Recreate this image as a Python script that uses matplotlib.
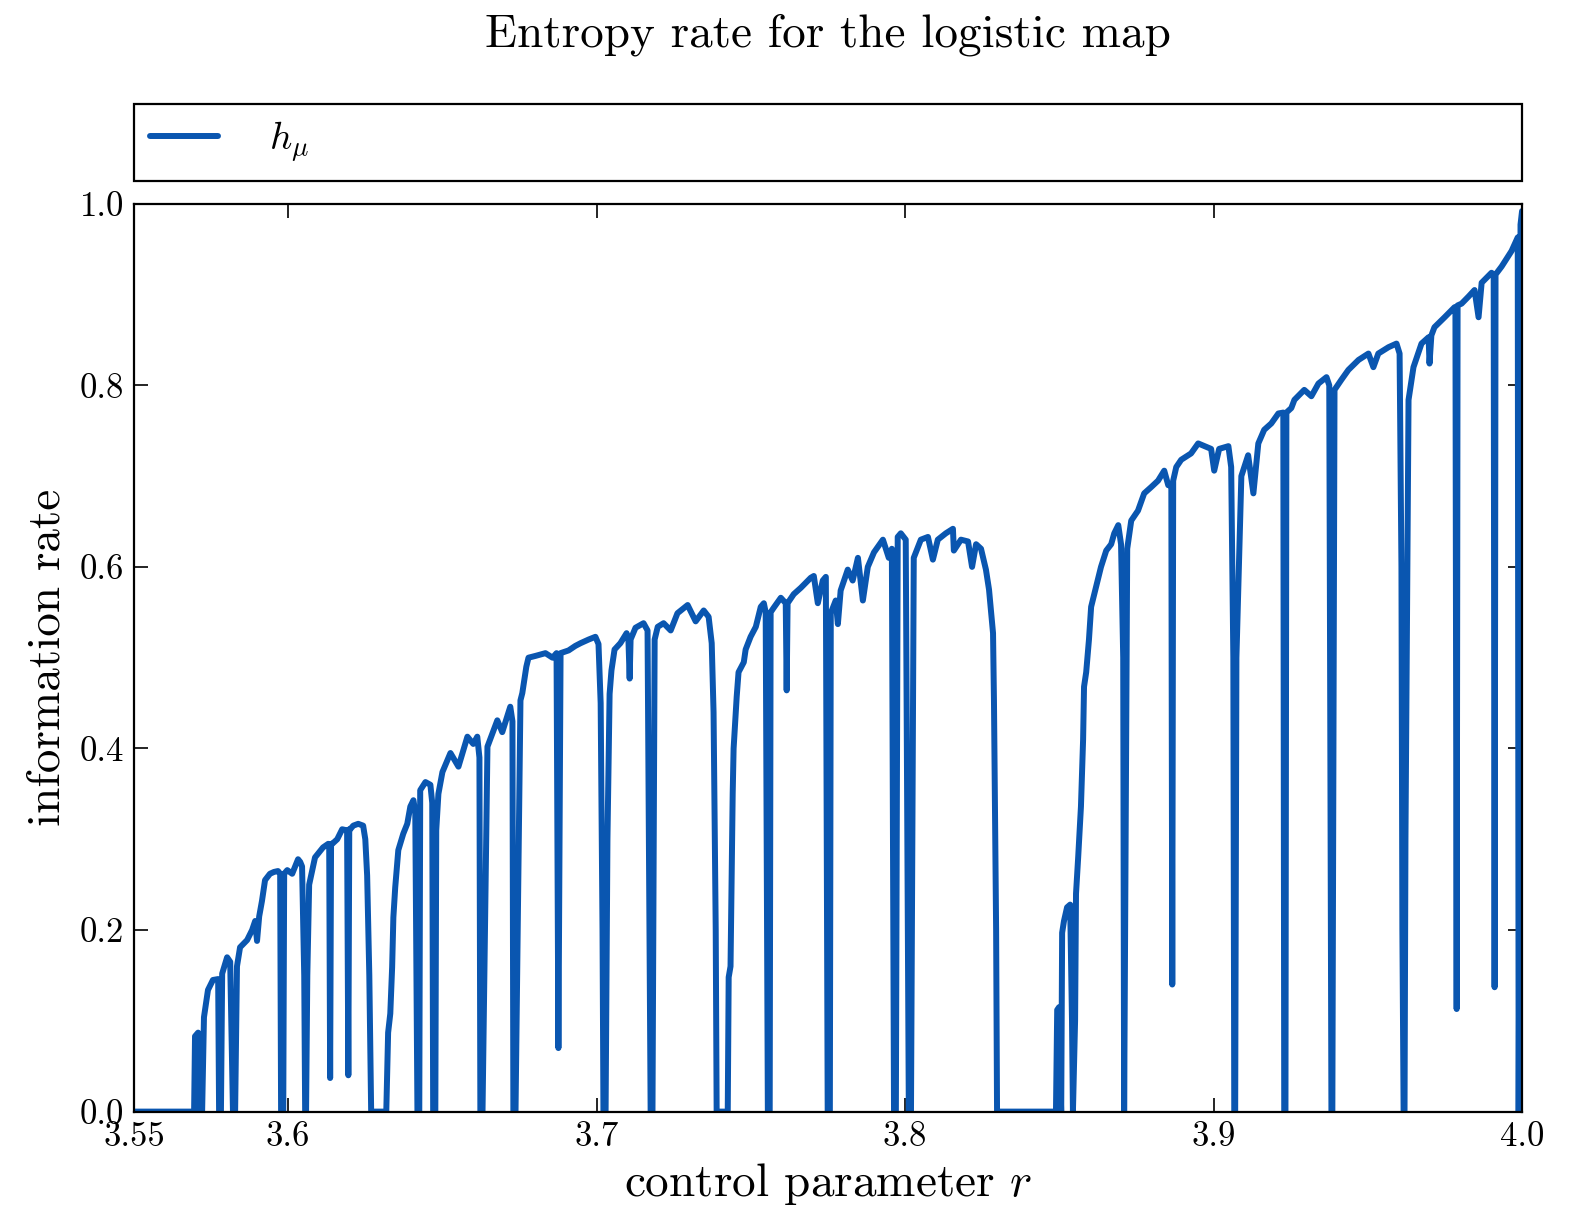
import matplotlib
matplotlib.use("Agg")
import matplotlib.pyplot as plt

plt.rcParams['font.family'] = ['cmr10', 'DejaVu Serif']
plt.rcParams['mathtext.fontset'] = 'cm'
plt.rcParams['axes.formatter.use_mathtext'] = True

# ---------------- data ----------------
# chaotic band before the period-6 window
r_a = [3.5500, 3.5688, 3.5695, 3.5698, 3.5708, 3.5711, 3.5714, 3.5721, 3.5727, 3.5740,
       3.5756, 3.5773, 3.5776, 3.5782, 3.5786, 3.5802, 3.5812, 3.5821, 3.5828, 3.5834,
       3.5844, 3.5867, 3.5883, 3.5893, 3.5899, 3.5906, 3.5915, 3.5925, 3.5941, 3.5954,
       3.5967, 3.5974, 3.5977, 3.5984, 3.5987, 3.5997, 3.6013, 3.6032, 3.6039, 3.6045,
       3.6052, 3.6055, 3.6058, 3.6062, 3.6068, 3.6087, 3.6113, 3.6130, 3.6133, 3.6136,
       3.6139, 3.6143, 3.6159, 3.6175, 3.6188, 3.6191, 3.6195, 3.6198, 3.6201, 3.6211,
       3.6227, 3.6243, 3.6250, 3.6256, 3.6263, 3.6269]
h_a = [0.000, 0.000, 0.000, 0.083, 0.087, 0.085, 0.000, 0.000, 0.104, 0.134,
       0.145, 0.146, 0.000, 0.000, 0.152, 0.170, 0.165, 0.000, 0.000, 0.160,
       0.181, 0.189, 0.200, 0.210, 0.188, 0.215, 0.232, 0.255, 0.262, 0.264,
       0.265, 0.262, 0.000, 0.000, 0.262, 0.266, 0.262, 0.278, 0.275, 0.270,
       0.150, 0.000, 0.000, 0.150, 0.250, 0.280, 0.291, 0.295, 0.292, 0.037,
       0.295, 0.295, 0.300, 0.311, 0.310, 0.310, 0.040, 0.311, 0.311, 0.315,
       0.317, 0.315, 0.300, 0.260, 0.150, 0.000]

# band between the period-6 and period-5 windows
r_b = [3.6318, 3.6324, 3.6331, 3.6337, 3.6341, 3.6347, 3.6357, 3.6373, 3.6386, 3.6396,
       3.6406, 3.6412, 3.6419, 3.6425, 3.6428, 3.6445, 3.6461, 3.6467, 3.6470, 3.6477,
       3.6480, 3.6487, 3.6500, 3.6526, 3.6552, 3.6581, 3.6600, 3.6613, 3.6620, 3.6623,
       3.6630, 3.6646, 3.6678, 3.6694, 3.6720, 3.6727, 3.6730, 3.6737, 3.6753, 3.6759,
       3.6772, 3.6779, 3.6802, 3.6834, 3.6857, 3.6870, 3.6876, 3.6883, 3.6909, 3.6931,
       3.6948, 3.6974, 3.6996, 3.7006, 3.7013, 3.7019, 3.7022, 3.7029, 3.7035, 3.7042,
       3.7048, 3.7058, 3.7077, 3.7097, 3.7103, 3.7107, 3.7110, 3.7126, 3.7152, 3.7165,
       3.7175, 3.7181, 3.7188, 3.7198, 3.7217, 3.7240, 3.7262, 3.7295, 3.7321, 3.7347,
       3.7363, 3.7373, 3.7379, 3.7386, 3.7389]
h_b = [0.000, 0.087, 0.108, 0.159, 0.214, 0.247, 0.288, 0.306, 0.317, 0.336,
       0.343, 0.330, 0.000, 0.000, 0.354, 0.363, 0.360, 0.340, 0.000, 0.000,
       0.310, 0.350, 0.374, 0.395, 0.380, 0.413, 0.405, 0.413, 0.390, 0.000,
       0.000, 0.402, 0.431, 0.418, 0.446, 0.430, 0.000, 0.000, 0.453, 0.461,
       0.490, 0.500, 0.502, 0.505, 0.500, 0.505, 0.070, 0.505, 0.508, 0.513,
       0.516, 0.520, 0.523, 0.515, 0.450, 0.200, 0.000, 0.000, 0.300, 0.460,
       0.486, 0.509, 0.516, 0.527, 0.520, 0.477, 0.520, 0.533, 0.538, 0.530,
       0.000, 0.000, 0.520, 0.534, 0.538, 0.530, 0.549, 0.558, 0.540, 0.552,
       0.545, 0.516, 0.440, 0.200, 0.000]

# band between the period-5 and period-3 windows
r_c = [3.7421, 3.7425, 3.7428, 3.7434, 3.7441, 3.7444, 3.7454, 3.7460, 3.7477, 3.7483,
       3.7499, 3.7516, 3.7532, 3.7542, 3.7548, 3.7555, 3.7561, 3.7564, 3.7574, 3.7597,
       3.7613, 3.7616, 3.7619, 3.7639, 3.7662, 3.7694, 3.7704, 3.7717, 3.7733, 3.7743,
       3.7746, 3.7749, 3.7756, 3.7759, 3.7775, 3.7782, 3.7791, 3.7814, 3.7830, 3.7847,
       3.7863, 3.7879, 3.7899, 3.7928, 3.7947, 3.7957, 3.7964, 3.7970, 3.7976, 3.7986,
       3.8002, 3.8012, 3.8019, 3.8028, 3.8051, 3.8074, 3.8090, 3.8106, 3.8132, 3.8155,
       3.8158, 3.8181, 3.8204, 3.8217, 3.8230, 3.8246, 3.8262, 3.8272, 3.8285, 3.8288,
       3.8295, 3.8298]
h_c = [0.000, 0.000, 0.148, 0.160, 0.350, 0.400, 0.457, 0.484, 0.495, 0.509,
       0.523, 0.534, 0.556, 0.560, 0.550, 0.000, 0.000, 0.550, 0.555, 0.566,
       0.560, 0.464, 0.560, 0.570, 0.577, 0.588, 0.590, 0.560, 0.585, 0.589,
       0.300, 0.000, 0.000, 0.549, 0.563, 0.537, 0.574, 0.597, 0.585, 0.610,
       0.563, 0.600, 0.616, 0.630, 0.610, 0.620, 0.000, 0.000, 0.633, 0.637,
       0.630, 0.000, 0.000, 0.610, 0.630, 0.633, 0.608, 0.630, 0.637, 0.642,
       0.618, 0.630, 0.628, 0.600, 0.625, 0.620, 0.597, 0.575, 0.527, 0.453,
       0.200, 0.000]

# band after the period-3 window up to r = 4
r_d = [3.8486, 3.8489, 3.8493, 3.8499, 3.8502, 3.8506, 3.8509, 3.8515, 3.8525, 3.8535,
       3.8541, 3.8544, 3.8551, 3.8554, 3.8561, 3.8570, 3.8577, 3.8580, 3.8587, 3.8596,
       3.8603, 3.8619, 3.8635, 3.8652, 3.8668, 3.8678, 3.8691, 3.8700, 3.8707, 3.8710,
       3.8720, 3.8733, 3.8755, 3.8775, 3.8798, 3.8820, 3.8840, 3.8853, 3.8863, 3.8866,
       3.8869, 3.8879, 3.8895, 3.8927, 3.8950, 3.8992, 3.9002, 3.9018, 3.9048, 3.9057,
       3.9064, 3.9067, 3.9070, 3.9074, 3.9090, 3.9112, 3.9129, 3.9145, 3.9164, 3.9187,
       3.9210, 3.9226, 3.9229, 3.9233, 3.9236, 3.9252, 3.9262, 3.9294, 3.9317, 3.9340,
       3.9366, 3.9375, 3.9382, 3.9385, 3.9392, 3.9414, 3.9437, 3.9470, 3.9502, 3.9518,
       3.9534, 3.9567, 3.9593, 3.9603, 3.9609, 3.9612, 3.9616, 3.9619, 3.9622, 3.9632,
       3.9648, 3.9674, 3.9697, 3.9700, 3.9706, 3.9716, 3.9749, 3.9781, 3.9784, 3.9788,
       3.9791, 3.9804, 3.9827, 3.9846, 3.9859, 3.9869, 3.9901, 3.9908, 3.9911, 3.9914,
       3.9934, 3.9966, 3.9986, 3.9989, 3.9992, 3.9995, 4.0000]
h_d = [0.000, 0.000, 0.112, 0.115, 0.050, 0.000, 0.197, 0.210, 0.225, 0.228,
       0.100, 0.000, 0.100, 0.240, 0.280, 0.336, 0.410, 0.468, 0.484, 0.520,
       0.556, 0.578, 0.600, 0.618, 0.625, 0.637, 0.646, 0.625, 0.500, 0.000,
       0.620, 0.651, 0.662, 0.681, 0.688, 0.695, 0.706, 0.690, 0.690, 0.140,
       0.695, 0.710, 0.718, 0.725, 0.736, 0.730, 0.706, 0.730, 0.733, 0.710,
       0.500, 0.000, 0.000, 0.500, 0.700, 0.723, 0.681, 0.736, 0.751, 0.758,
       0.769, 0.770, 0.000, 0.000, 0.770, 0.775, 0.784, 0.795, 0.788, 0.802,
       0.809, 0.800, 0.000, 0.000, 0.795, 0.806, 0.817, 0.828, 0.835, 0.820,
       0.835, 0.842, 0.846, 0.835, 0.600, 0.200, 0.000, 0.000, 0.300, 0.784,
       0.820, 0.846, 0.853, 0.824, 0.855, 0.864, 0.875, 0.886, 0.886, 0.113,
       0.888, 0.890, 0.898, 0.905, 0.875, 0.913, 0.924, 0.922, 0.137, 0.922,
       0.931, 0.948, 0.963, 0.000, 0.300, 0.977, 0.992]

x_ticks = [3.55, 3.6, 3.7, 3.8, 3.9, 4.0]
x_tick_labels = ['3.55', '3.6', '3.7', '3.8', '3.9', '4.0']
y_ticks = [0.0, 0.2, 0.4, 0.6, 0.8, 1.0]
y_tick_labels = ['0.0', '0.2', '0.4', '0.6', '0.8', '1.0']

title_text = 'Entropy rate for the logistic map'
x_label = r'control parameter $r$'
y_label = 'information rate'
series_label = r'$h_\mu$'

# ---------------- figure ----------------
r_all = r_a + r_b + r_c + r_d
h_all = h_a + h_b + h_c + h_d

fig = plt.figure(figsize=(15.74, 12.05), dpi=100)
ax = fig.add_axes([0.0851, 0.0775, 0.8819, 0.7534])

line_color = '#0a56b0'
ax.plot(r_all, h_all, color=line_color, lw=4.3, label=series_label,
        solid_joinstyle='round', solid_capstyle='round')

ax.set_xlim(3.55, 4.0)
ax.set_ylim(0.0, 1.0)
ax.set_xticks(x_ticks)
ax.set_xticklabels(x_tick_labels)
ax.set_yticks(y_ticks)
ax.set_yticklabels(y_tick_labels)
ax.tick_params(direction='in', top=True, right=True, length=10, width=1.2,
               labelsize=25, pad=7)
for s in ax.spines.values():
    s.set_linewidth(1.6)

ax.set_xlabel(x_label, fontsize=34, labelpad=6)
ax.set_ylabel(y_label, fontsize=34, labelpad=8)

leg = ax.legend(loc='lower left', bbox_to_anchor=(0.0, 1.0255, 1.0, 0.085),
                mode='expand', borderaxespad=0.0, fancybox=False,
                framealpha=1.0, edgecolor='black', fontsize=28,
                handlelength=1.75, handletextpad=1.3, borderpad=0.41)
leg.get_frame().set_linewidth(1.6)

fig.text(0.526, 0.971, title_text, ha='center', va='center', fontsize=34)

fig.savefig('out.png', dpi=100)
